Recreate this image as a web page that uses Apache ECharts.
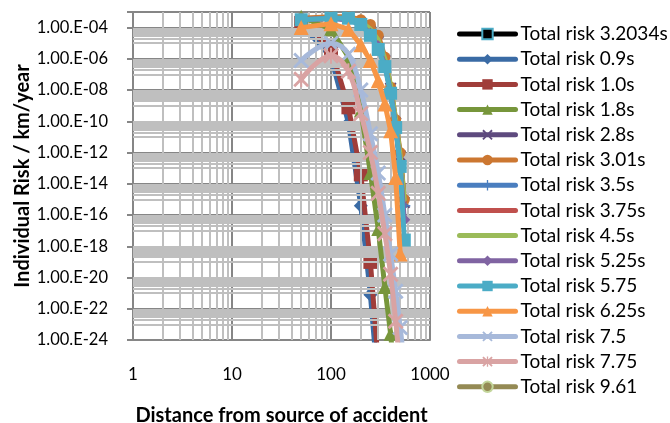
<!DOCTYPE html>
<html>
<head>
<meta charset="utf-8">
<script src="https://cdn.jsdelivr.net/npm/echarts@6/dist/echarts.min.js"></script>
<style>html,body{margin:0;padding:0;background:#fff}#c{width:670px;height:423px}</style>
</head>
<body>
<div id="c"></div>
<script>
// ---- data (distance in m, individual risk per km per year) ----
const distances = [50, 100, 150, 200, 250, 300, 350, 400, 450, 500, 550];

const risk_3_2034s = [3.5e-4, 4.0e-4, 4.0e-4, 2.5e-4, 1.0e-4, 2.5e-5, 6.3e-7, 7.9e-9, 4.0e-11, 3.2e-13, 5.0e-16];
const risk_0_9s    = [1.6e-4, 1.3e-6, 7.9e-11, 4.0e-16, 7.9e-22, 1.0e-27];
const risk_1_0s    = [2.0e-4, 5.0e-6, 7.9e-10, 4.0e-14, 1.0e-19, 3.2e-26];
const risk_1_8s    = [5.0e-4, 7.9e-5, 1.3e-6, 5.0e-10, 5.0e-14, 1.3e-17, 2.5e-21, 2.5e-24, 1.0e-27];
const risk_2_8s    = [3.2e-4, 4.0e-4, 4.0e-4, 2.0e-4, 6.3e-5, 1.3e-5, 7.9e-7, 1.3e-8, 7.9e-11, 6.3e-13, 6.3e-16];
const risk_3_01s   = [4.0e-4, 5.0e-4, 5.0e-4, 3.2e-4, 1.6e-4, 3.2e-5, 1.3e-6, 1.6e-8, 1.3e-10, 1.0e-12, 1.0e-15];
const risk_3_5s    = [3.2e-4, 4.0e-4, 3.2e-4, 1.6e-4, 4.0e-5, 7.9e-6, 5.0e-7, 1.0e-8, 6.3e-11, 2.5e-13, 4.0e-16];
const risk_3_75s   = [3.2e-4, 4.0e-4, 4.0e-4, 2.0e-4, 5.0e-5, 1.0e-5, 6.3e-7, 1.3e-8, 7.9e-11, 4.0e-13, 7.9e-16];
const risk_4_5s    = [3.2e-4, 4.0e-4, 4.0e-4, 2.5e-4, 7.9e-5, 1.6e-5, 1.0e-6, 2.0e-8, 1.3e-10, 6.3e-13, 1.0e-15];
const risk_5_25s   = [3.2e-4, 4.0e-4, 3.2e-4, 1.6e-4, 4.0e-5, 6.3e-6, 4.0e-7, 7.9e-9, 5.0e-11, 1.3e-13, 5.0e-17];
const risk_5_75    = [3.2e-4, 4.0e-4, 4.0e-4, 1.6e-4, 3.2e-5, 4.0e-6, 3.2e-7, 6.3e-9, 4.0e-11, 1.3e-13, 2.5e-18];
const risk_6_25s   = [1.0e-4, 1.8e-4, 7.9e-5, 7.9e-6, 7.9e-7, 4.0e-8, 1.3e-9, 2.5e-11, 2.5e-14, 3.2e-19];
const risk_7_5     = [7.9e-7, 1.0e-5, 2.0e-6, 1.0e-8, 1.6e-11, 5.0e-14, 1.0e-16, 3.2e-19, 1.3e-21, 6.3e-24, 2.5e-26];
const risk_7_75    = [5.0e-8, 1.6e-6, 1.6e-7, 3.2e-10, 1.0e-12, 2.5e-15, 6.3e-18, 1.6e-20, 1.6e-23, 1.6e-26];
const risk_9_61    = [];

const seriesNames = ['Total risk 3.2034s','Total risk 0.9s','Total risk 1.0s','Total risk 1.8s','Total risk 2.8s',
  'Total risk 3.01s','Total risk 3.5s','Total risk 3.75s','Total risk 4.5s','Total risk 5.25s','Total risk 5.75',
  'Total risk 6.25s','Total risk 7.5','Total risk 7.75','Total risk 9.61'];
const seriesValues = [risk_3_2034s, risk_0_9s, risk_1_0s, risk_1_8s, risk_2_8s, risk_3_01s, risk_3_5s, risk_3_75s,
  risk_4_5s, risk_5_25s, risk_5_75, risk_6_25s, risk_7_5, risk_7_75, risk_9_61];

// axis ticks
const xTickValues = [1, 10, 100, 1000];
const xTickLabels = ['1', '10', '100', '1000'];
const yMinExp = -24, yMaxExp = -3;
const yTickExps = [-4, -6, -8, -10, -12, -14, -16, -18, -20, -22, -24];
const yTickLabels = ['1.00.E-04','1.00.E-06','1.00.E-08','1.00.E-10','1.00.E-12','1.00.E-14','1.00.E-16','1.00.E-18','1.00.E-20','1.00.E-22','1.00.E-24'];

// ECharts rounds fixed log-axis extents to 20 decimals, so the axis works in a
// display unit of 1e-21 risk/km/year (pure unit change; labels show true values).
const UNIT_EXP = 21;
function toUnit(v) { return v * Number('1e' + UNIT_EXP); }

// ---- styles ----
const X_PATH = 'path://M0,2 L2,0 L8,6 L14,0 L16,2 L10,8 L16,14 L14,16 L8,10 L2,16 L0,14 L6,8 Z';
const PLUS_PATH = 'path://M7,0 L9,0 L9,7 L16,7 L16,9 L9,9 L9,16 L7,16 L7,9 L0,9 L0,7 L7,7 Z';
const STAR_PATH = 'path://M0,2 L2,0 L8,6 L14,0 L16,2 L10,8 L16,14 L14,16 L8,10 L2,16 L0,14 L6,8 Z M7,0 L9,0 L9,16 L7,16 Z';

const styles = [
  {color:'#000000', symbol:'rect', size:6, border:'#4BACC6', bw:1.5},
  {color:'#3A6BA5', symbol:'diamond', size:14},
  {color:'#A03D3A', symbol:'rect', size:14},
  {color:'#77963B', symbol:'triangle', size:14},
  {color:'#5E4A7E', symbol:X_PATH, size:12},
  {color:'#CC7731', symbol:'circle', size:11},
  {color:'#4A7EBF', symbol:PLUS_PATH, size:12},
  {color:'#C0504D', symbol:'none', size:0},
  {color:'#9BBB59', symbol:'none', size:0},
  {color:'#8064A2', symbol:'diamond', size:12},
  {color:'#4BACC6', symbol:'rect', size:13},
  {color:'#F79646', symbol:'triangle', size:15},
  {color:'#A7B9DA', symbol:X_PATH, size:16, smooth:true},
  {color:'#D9A3A3', symbol:STAR_PATH, size:16, smooth:true},
  {color:'#948A54', symbol:'circle', size:11, border:'#C3D69B', bw:2}
];

const FONT = 'Lato, Carlito, "Open Sans", sans-serif';

// minor grid reference values
const xMinorMult = [2,3,4,5,6,7,8,9];
const xMinorDecades = [1, 10, 100];
const yMinorMult = [1,2,3,4,5,6,7,8,9];
const yMinorExps = [-23,-21,-19,-17,-15,-13,-11,-9,-7,-5];

const minorLines = [];
xMinorDecades.forEach(d => xMinorMult.forEach(m => minorLines.push({xAxis: m * d})));
yMinorExps.forEach(e => yMinorMult.forEach(m => minorLines.push({yAxis: m * Number('1e' + (e + UNIT_EXP))})));

const series = [{
  type: 'line', name: '_grid', data: [], z: 0, silent: true,
  markLine: {
    silent: true, symbol: 'none', animation: false,
    label: {show: false},
    lineStyle: {color: '#BFBFBF', width: 2, type: 'solid'},
    emphasis: {disabled: true},
    data: minorLines
  }
}];

seriesNames.forEach((name, i) => {
  const st = styles[i];
  const vals = seriesValues[i];
  const data = [];
  vals.forEach((v, j) => { if (v != null) data.push([distances[j], toUnit(v)]); });
  series.push({
    type: 'line', name: name, data: data, z: 2 + i,
    symbol: st.symbol === 'none' ? 'none' : st.symbol,
    showSymbol: st.symbol !== 'none',
    symbolSize: st.size,
    smooth: st.smooth ? 0.4 : false,
    lineStyle: {color: st.color, width: 5, cap: 'round', join: 'round'},
    itemStyle: {color: st.color, borderColor: st.border || st.color, borderWidth: st.bw || 0},
    emphasis: {disabled: true},
    animation: false
  });
});

const legendData = seriesNames.map((n, i) => styles[i].symbol === 'none'
  ? {name: n, itemStyle: {opacity: 0}}
  : {name: n});

const chart = echarts.init(document.getElementById('c'), null, {renderer: 'canvas'});
chart.setOption({
  animation: false,
  backgroundColor: '#ffffff',
  grid: {left: 133, right: 240, top: 12, bottom: 83, containLabel: false, outerBoundsMode: 'none'},
  legend: {
    orient: 'vertical', left: 457, top: 24.5, padding: 0,
    itemWidth: 56, itemHeight: 13, itemGap: 6.2,
    lineStyle: {width: 5, cap: 'round'},
    textStyle: {fontSize: 19, color: '#000', fontFamily: FONT},
    data: legendData,
    selectedMode: false
  },
  xAxis: {
    type: 'log', logBase: 10, min: 1, max: 1000, z: 1,
    axisLine: {show: true, lineStyle: {color: '#868686', width: 2}},
    axisTick: {show: false},
    axisLabel: {
      margin: 26, fontSize: 17, color: '#000', fontFamily: FONT,
      formatter: function (v) {
        const e = Math.round(Math.log10(v));
        for (let i = 0; i < xTickValues.length; i++) {
          if (Math.round(Math.log10(xTickValues[i])) === e) return xTickLabels[i];
        }
        return '';
      }
    },
    splitLine: {show: true, lineStyle: {color: '#868686', width: 2}},
    name: 'Distance from source of accident', nameLocation: 'middle', nameGap: 66,
    nameTextStyle: {fontSize: 20, fontWeight: 'bold', color: '#000', fontFamily: FONT}
  },
  yAxis: {
    type: 'log', logBase: 10,
    min: Number('1e' + (yMinExp + UNIT_EXP)), max: Number('1e' + (yMaxExp + UNIT_EXP)),
    interval: 2, z: 1,
    axisLine: {show: true, lineStyle: {color: '#868686', width: 2}},
    axisTick: {show: true, length: 6, lineStyle: {color: '#868686', width: 2}},
    axisLabel: {
      margin: 25, fontSize: 16.5, color: '#000', fontFamily: FONT,
      formatter: function (v) {
        const e = Math.round(Math.log10(v)) - UNIT_EXP;
        const k = yTickExps.indexOf(e);
        return k >= 0 ? yTickLabels[k] : '';
      }
    },
    splitLine: {show: true, lineStyle: {color: '#868686', width: 2}},
    name: 'Individual Risk / km/year', nameLocation: 'middle', nameGap: 100, nameRotate: 90,
    nameTextStyle: {fontSize: 20, fontWeight: 'bold', color: '#000', fontFamily: FONT}
  },
  series: series
});
</script>
</body>
</html>
